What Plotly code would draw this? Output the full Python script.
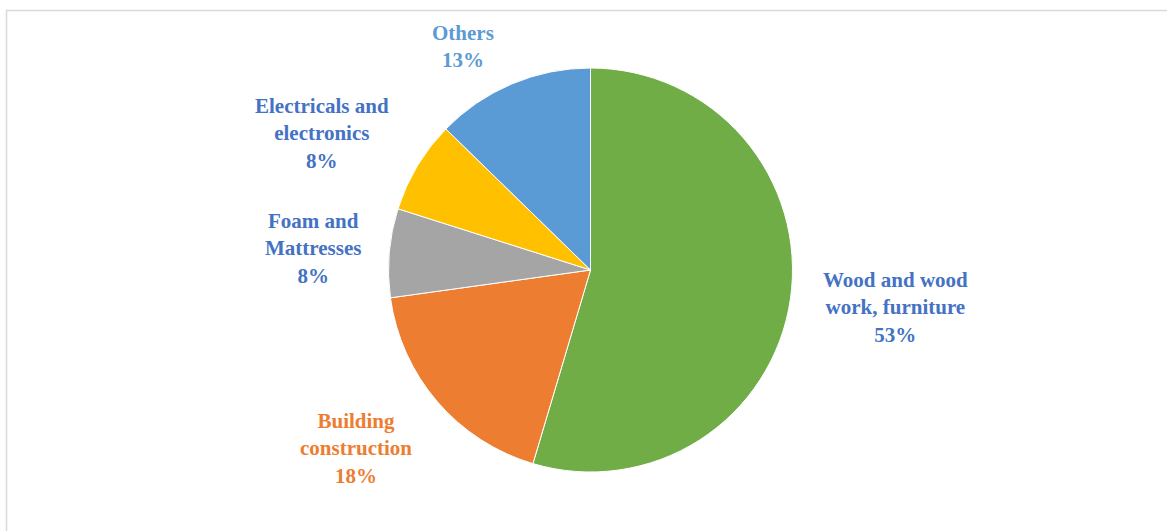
import plotly.graph_objects as go

categories = ["Wood and wood<br>work, furniture", "Building<br>construction", "Foam and<br>Mattresses",
              "Electricals and<br>electronics", "Others"]
values = [54.6, 18.2, 7.1, 7.4, 12.7]
# percentage labels as printed on the chart
label_pct = ["53%", "18%", "8%", "8%", "13%"]
slice_colors = ["#70AD47", "#ED7D31", "#A5A5A5", "#FFC000", "#5B9BD5"]
label_colors = ["#4472C4", "#ED7D31", "#4472C4", "#4472C4", "#5B9BD5"]

W, H = 1167, 531
# label centres in pixels (x, y from top-left)
label_px = [(895, 307), (356, 448), (313, 248), (322, 134), (463, 46)]

fig = go.Figure(go.Pie(
    values=values, labels=categories, sort=False, direction="clockwise", rotation=0,
    marker=dict(colors=slice_colors, line=dict(color="white", width=1)),
    textinfo="none", hoverinfo="label", showlegend=False,
    domain=dict(x=[388 / W, 793 / W], y=[1 - 472 / H, 1 - 68 / H]),
))

for cat, pct, col, (px, py) in zip(categories, label_pct, label_colors, label_px):
    fig.add_annotation(x=px / W, y=1 - py / H, xref="paper", yref="paper",
                       xanchor="center", yanchor="middle", showarrow=False,
                       text=f"<b>{cat}<br>{pct}</b>",
                       font=dict(family="Liberation Serif", size=21, color=col),
                       align="center")

fig.add_shape(type="rect", xref="paper", yref="paper", x0=6.5 / W, x1=1.01,
              y0=-0.02, y1=1 - 10.5 / H,
              line=dict(color="#D9D9D9", width=1.5), layer="below")

fig.update_layout(width=W, height=H, margin=dict(l=0, r=0, t=0, b=0),
                  paper_bgcolor="white", plot_bgcolor="white")
fig.write_html("out.html", config={"displayModeBar": False},
               post_script="document.body.style.margin='0';")
